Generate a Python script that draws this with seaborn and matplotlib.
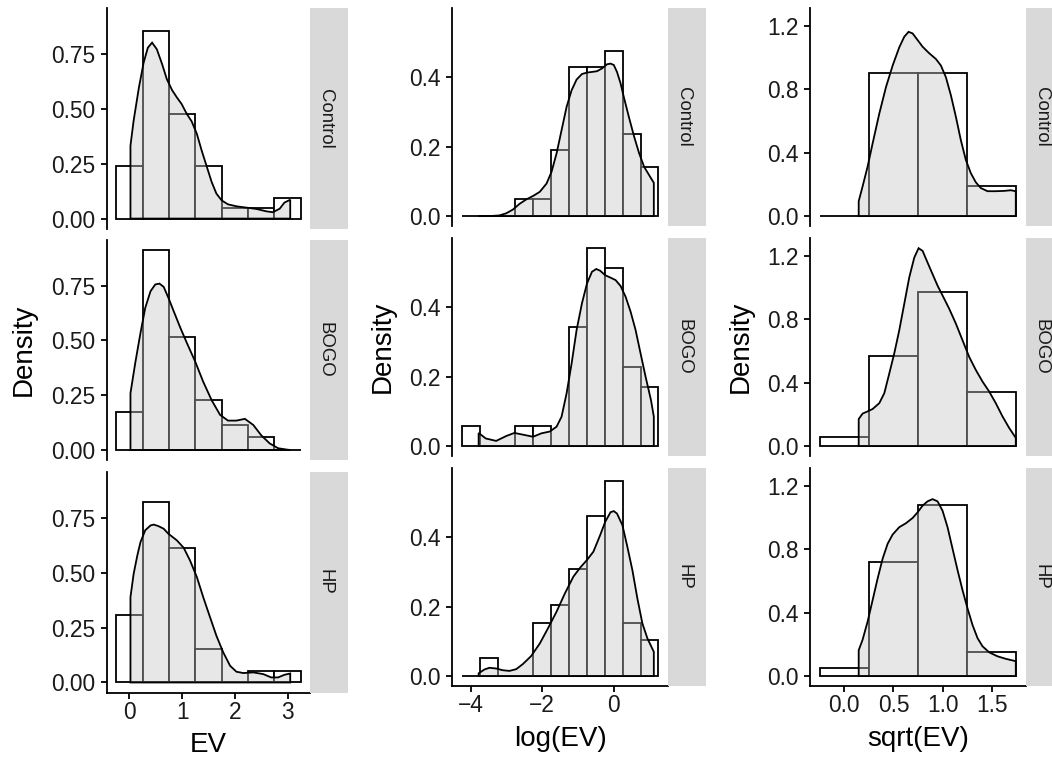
import numpy as np
import pandas as pd
import matplotlib
matplotlib.use("Agg")
import matplotlib.pyplot as plt
import seaborn as sns
from matplotlib.patches import Polygon

# ---------------- data ----------------
groups = ["Control", "BOGO", "HP"]
x_titles = ["EV", "log(EV)", "sqrt(EV)"]

# histogram bin edges (binwidth 0.5)
ev_edges = [-0.25, 0.25, 0.75, 1.25, 1.75, 2.25, 2.75, 3.25]
log_edges = [-4.25, -3.75, -3.25, -2.75, -2.25, -1.75, -1.25, -0.75, -0.25, 0.25, 0.75, 1.25]
sqrt_edges = [-0.25, 0.25, 0.75, 1.25, 1.75]

# histogram densities
ev_hist_control = [0.238, 0.857, 0.476, 0.238, 0.048, 0.048, 0.095]
ev_hist_bogo = [0.171, 0.914, 0.514, 0.229, 0.114, 0.057, 0.0]
ev_hist_hp = [0.308, 0.821, 0.615, 0.154, 0.0, 0.051, 0.051]

log_hist_control = [0.0, 0.0, 0.0, 0.048, 0.048, 0.190, 0.429, 0.429, 0.476, 0.238, 0.143]
log_hist_bogo = [0.057, 0.0, 0.0, 0.057, 0.057, 0.0, 0.343, 0.571, 0.514, 0.229, 0.171]
log_hist_hp = [0.0, 0.051, 0.0, 0.0, 0.154, 0.205, 0.308, 0.462, 0.564, 0.154, 0.103]

sqrt_hist_control = [0.0, 0.905, 0.905, 0.190]
sqrt_hist_bogo = [0.057, 0.571, 0.971, 0.343]
sqrt_hist_hp = [0.051, 0.718, 1.077, 0.154]

# kernel density curves
ev_dens_x_control = [0.02, 0.08, 0.18, 0.27, 0.35, 0.43, 0.52, 0.62, 0.71, 0.81, 0.90, 0.99, 1.09, 1.18,
                     1.28, 1.37, 1.47, 1.56, 1.65, 1.75, 1.87, 2.03, 2.22, 2.41, 2.60, 2.72, 2.85, 2.94, 3.05]
ev_dens_y_control = [0.333, 0.447, 0.598, 0.712, 0.780, 0.803, 0.773, 0.705, 0.636, 0.586, 0.553, 0.523,
                     0.477, 0.444, 0.386, 0.311, 0.235, 0.167, 0.114, 0.083, 0.065, 0.056, 0.050, 0.044,
                     0.033, 0.029, 0.045, 0.073, 0.086]
ev_dens_x_bogo = [0.02, 0.11, 0.21, 0.30, 0.40, 0.49, 0.57, 0.65, 0.74, 0.84, 0.96, 1.09, 1.25, 1.40,
                  1.56, 1.72, 1.87, 2.03, 2.19, 2.35, 2.50, 2.66, 2.82, 2.98, 3.05]
ev_dens_y_bogo = [0.259, 0.396, 0.534, 0.648, 0.724, 0.755, 0.759, 0.744, 0.694, 0.633, 0.561, 0.488,
                  0.402, 0.311, 0.227, 0.160, 0.134, 0.134, 0.142, 0.114, 0.067, 0.030, 0.008, 0.002, 0.0]
ev_dens_x_hp = [0.02, 0.08, 0.15, 0.21, 0.30, 0.40, 0.46, 0.55, 0.65, 0.74, 0.90, 1.03, 1.15, 1.28,
                1.40, 1.53, 1.65, 1.78, 1.91, 2.03, 2.16, 2.35, 2.54, 2.69, 2.82, 2.94, 3.05]
ev_dens_y_hp = [0.389, 0.495, 0.579, 0.640, 0.694, 0.716, 0.720, 0.713, 0.701, 0.678, 0.648, 0.614,
                0.556, 0.480, 0.389, 0.297, 0.213, 0.137, 0.076, 0.049, 0.043, 0.046, 0.038, 0.023,
                0.023, 0.035, 0.041]

log_dens_x_control = [-3.78, -3.48, -3.20, -3.01, -2.82, -2.64, -2.45, -2.26, -2.07, -1.88, -1.74, -1.60,
                      -1.46, -1.32, -1.18, -1.04, -0.89, -0.75, -0.61, -0.47, -0.33, -0.19, -0.09, 0.0,
                      0.09, 0.19, 0.28, 0.42, 0.57, 0.71, 0.85, 0.99, 1.12]
log_dens_y_control = [0.0, 0.0, 0.002, 0.008, 0.019, 0.035, 0.048, 0.058, 0.070, 0.094, 0.128, 0.181,
                      0.248, 0.315, 0.363, 0.394, 0.410, 0.414, 0.416, 0.418, 0.426, 0.438, 0.440, 0.436,
                      0.416, 0.383, 0.344, 0.287, 0.229, 0.181, 0.142, 0.118, 0.096]
log_dens_x_bogo = [-3.78, -3.58, -3.29, -3.01, -2.78, -2.54, -2.26, -2.02, -1.79, -1.60, -1.46, -1.32,
                   -1.18, -1.04, -0.89, -0.75, -0.61, -0.49, -0.38, -0.24, -0.09, 0.05, 0.19, 0.33,
                   0.47, 0.61, 0.75, 0.89, 1.04, 1.12]
log_dens_y_bogo = [0.038, 0.022, 0.015, 0.029, 0.038, 0.033, 0.027, 0.037, 0.042, 0.056, 0.085, 0.152,
                   0.238, 0.335, 0.412, 0.469, 0.503, 0.511, 0.506, 0.493, 0.486, 0.479, 0.462, 0.431,
                   0.388, 0.335, 0.267, 0.200, 0.133, 0.085]
log_dens_x_hp = [-3.78, -3.62, -3.48, -3.29, -3.11, -2.92, -2.73, -2.54, -2.31, -2.07, -1.84, -1.60,
                 -1.37, -1.13, -0.94, -0.75, -0.57, -0.38, -0.24, -0.09, 0.0, 0.09, 0.24, 0.38, 0.52,
                 0.66, 0.80, 0.94, 1.12]
log_dens_y_hp = [0.008, 0.019, 0.024, 0.022, 0.017, 0.015, 0.020, 0.035, 0.058, 0.094, 0.138, 0.186,
                 0.238, 0.287, 0.313, 0.335, 0.359, 0.407, 0.445, 0.473, 0.476, 0.469, 0.436, 0.373,
                 0.306, 0.224, 0.152, 0.109, 0.070]

sqrt_dens_x_control = [0.146, 0.186, 0.237, 0.288, 0.356, 0.424, 0.492, 0.559, 0.610, 0.654, 0.695,
                       0.746, 0.797, 0.864, 0.932, 0.983, 1.034, 1.085, 1.136, 1.186, 1.237, 1.288,
                       1.339, 1.390, 1.458, 1.542, 1.627, 1.695, 1.746]
sqrt_dens_y_control = [0.094, 0.188, 0.313, 0.459, 0.647, 0.814, 0.950, 1.064, 1.131, 1.162, 1.152,
                       1.110, 1.068, 1.027, 0.991, 0.950, 0.876, 0.762, 0.626, 0.480, 0.355, 0.271,
                       0.213, 0.177, 0.157, 0.157, 0.159, 0.163, 0.157]
sqrt_dens_x_bogo = [0.146, 0.186, 0.237, 0.288, 0.356, 0.407, 0.458, 0.508, 0.559, 0.610, 0.661, 0.712,
                    0.756, 0.797, 0.847, 0.898, 0.949, 1.000, 1.068, 1.136, 1.203, 1.271, 1.339, 1.407,
                    1.475, 1.542, 1.610, 1.678, 1.746]
sqrt_dens_y_bogo = [0.171, 0.205, 0.219, 0.234, 0.271, 0.334, 0.459, 0.584, 0.730, 0.897, 1.064, 1.189,
                    1.248, 1.231, 1.158, 1.085, 1.012, 0.950, 0.866, 0.772, 0.668, 0.563, 0.480, 0.407,
                    0.344, 0.271, 0.188, 0.115, 0.052]
sqrt_dens_x_hp = [0.146, 0.186, 0.237, 0.288, 0.339, 0.390, 0.441, 0.492, 0.559, 0.627, 0.695, 0.746,
                  0.797, 0.847, 0.898, 0.949, 1.000, 1.051, 1.102, 1.153, 1.203, 1.254, 1.305, 1.356,
                  1.407, 1.475, 1.559, 1.644, 1.746]
sqrt_dens_y_hp = [0.163, 0.230, 0.344, 0.480, 0.616, 0.741, 0.835, 0.893, 0.939, 0.964, 0.997, 1.033,
                  1.075, 1.102, 1.116, 1.102, 1.043, 0.939, 0.803, 0.668, 0.543, 0.428, 0.323, 0.240,
                  0.188, 0.150, 0.125, 0.109, 0.094]

# axis ticks and labels
ev_xticks = [0, 1, 2, 3]
ev_xticklabels = ["0", "1", "2", "3"]
ev_yticks = [0, 0.25, 0.5, 0.75]
ev_yticklabels = ["0.00", "0.25", "0.50", "0.75"]
log_xticks = [-4, -2, 0]
log_xticklabels = ["\u22124", "\u22122", "0"]
log_yticks = [0, 0.2, 0.4]
log_yticklabels = ["0.0", "0.2", "0.4"]
sqrt_xticks = [0, 0.5, 1.0, 1.5]
sqrt_xticklabels = ["0.0", "0.5", "1.0", "1.5"]
sqrt_yticks = [0, 0.4, 0.8, 1.2]
sqrt_yticklabels = ["0.0", "0.4", "0.8", "1.2"]

columns = [
    dict(edges=ev_edges,
         hists=[ev_hist_control, ev_hist_bogo, ev_hist_hp],
         dx=[ev_dens_x_control, ev_dens_x_bogo, ev_dens_x_hp],
         dy=[ev_dens_y_control, ev_dens_y_bogo, ev_dens_y_hp],
         xt=ev_xticks, xtl=ev_xticklabels, yt=ev_yticks, ytl=ev_yticklabels),
    dict(edges=log_edges,
         hists=[log_hist_control, log_hist_bogo, log_hist_hp],
         dx=[log_dens_x_control, log_dens_x_bogo, log_dens_x_hp],
         dy=[log_dens_y_control, log_dens_y_bogo, log_dens_y_hp],
         xt=log_xticks, xtl=log_xticklabels, yt=log_yticks, ytl=log_yticklabels),
    dict(edges=sqrt_edges,
         hists=[sqrt_hist_control, sqrt_hist_bogo, sqrt_hist_hp],
         dx=[sqrt_dens_x_control, sqrt_dens_x_bogo, sqrt_dens_x_hp],
         dy=[sqrt_dens_y_control, sqrt_dens_y_bogo, sqrt_dens_y_hp],
         xt=sqrt_xticks, xtl=sqrt_xticklabels, yt=sqrt_yticks, ytl=sqrt_yticklabels),
]

# ---------------- style ----------------
sns.set_theme(style="ticks")
plt.rcParams["font.family"] = ["Liberation Sans", "DejaVu Sans"]
plt.rcParams.update({
    "axes.linewidth": 1.3,
    "axes.edgecolor": "black",
    "xtick.major.size": 4.3,
    "ytick.major.size": 4.3,
    "xtick.major.width": 1.3,
    "ytick.major.width": 1.3,
    "xtick.color": "black",
    "ytick.color": "black",
    "xtick.labelcolor": "#1A1A1A",
    "ytick.labelcolor": "#1A1A1A",
    "xtick.major.pad": 1.5,
    "ytick.major.pad": 3.8,
})

TICK_FS = 16.4
TITLE_FS = 20
STRIP_FS = 13.4

W, H = 1052, 761
fig = plt.figure(figsize=(W / 100, H / 100), dpi=100)


def px_axes(left, top, right, bottom):
    return fig.add_axes([left / W, 1 - bottom / H, (right - left) / W, (bottom - top) / H])


# layout in pixels
col_lr = [(107, 310), (452, 668.3), (810, 1026)]
col_rows = [
    [(8.3, 228.6), (239.6, 460.0), (472.0, 692.5)],
    [(8.3, 226.0), (238.3, 456.0), (468.3, 686.0)],
    [(8.3, 226.0), (238.3, 456.0), (468.3, 686.0)],
]
strip_w = 38
strip_text_x = 0.5 - 3.5 / strip_w
ylab_pos = [(24, 350), (383, 347), (741, 347)]
xlab_pos = [(208.5, 751.5), (560, 746), (918, 746)]

for ci, col in enumerate(columns):
    edges = [float(e) for e in col["edges"]]
    span = edges[-1] - edges[0]
    xlim = (edges[0] - 0.05 * span, edges[-1] + 0.05 * span)
    dmax = max(max(max(h) for h in col["hists"]), max(max(d) for d in col["dy"]))
    ylim = (-0.05 * dmax, 1.05 * dmax)
    centers = [(a + b) / 2 for a, b in zip(edges[:-1], edges[1:])]
    left, right = col_lr[ci]
    for ri, g in enumerate(groups):
        top, bottom = col_rows[ci][ri]
        ax = px_axes(left, top, right, bottom)
        hist_df = pd.DataFrame({"value": centers, "density": [float(v) for v in col["hists"][ri]]})
        sns.histplot(data=hist_df, x="value", weights="density", bins=edges, stat="count",
                     color="white", edgecolor="black", linewidth=1.3, alpha=1.0, ax=ax)
        dx = np.asarray(col["dx"][ri])
        dy = np.asarray(col["dy"][ri])
        verts = np.column_stack([np.r_[dx[0], dx, dx[-1]], np.r_[0.0, dy, 0.0]])
        ax.add_patch(Polygon(verts, closed=True, facecolor=(0.77, 0.77, 0.77, 0.4),
                             edgecolor="black", linewidth=1.3, zorder=3))
        ax.set_xlim(*xlim)
        ax.set_ylim(*ylim)
        ax.set_xlabel("")
        ax.set_ylabel("")
        ax.set_facecolor("white")
        ax.spines["top"].set_visible(False)
        ax.spines["right"].set_visible(False)
        ax.set_yticks(col["yt"])
        ax.set_yticklabels(col["ytl"], fontsize=TICK_FS)
        ax.set_xticks(col["xt"])
        if ri == 2:
            ax.set_xticklabels(col["xtl"], fontsize=TICK_FS)
        else:
            ax.spines["bottom"].set_visible(False)
            ax.tick_params(axis="x", bottom=False, labelbottom=False)
        ax.grid(False)

        sax = px_axes(right, top, right + strip_w, bottom)
        sax.set_facecolor("#D9D9D9")
        for s in sax.spines.values():
            s.set_visible(False)
        sax.set_xticks([])
        sax.set_yticks([])
        sax.text(strip_text_x, 0.5, g, rotation=270, ha="center", va="center",
                 fontsize=STRIP_FS, color="#1A1A1A", transform=sax.transAxes)

    fig.text(ylab_pos[ci][0] / W, 1 - ylab_pos[ci][1] / H, "Density", rotation=90,
             ha="center", va="center", fontsize=TITLE_FS, color="black")
    fig.text(xlab_pos[ci][0] / W, 1 - xlab_pos[ci][1] / H, x_titles[ci],
             ha="center", va="baseline", fontsize=TITLE_FS, color="black")

fig.savefig("out.png", dpi=100, facecolor="white")
